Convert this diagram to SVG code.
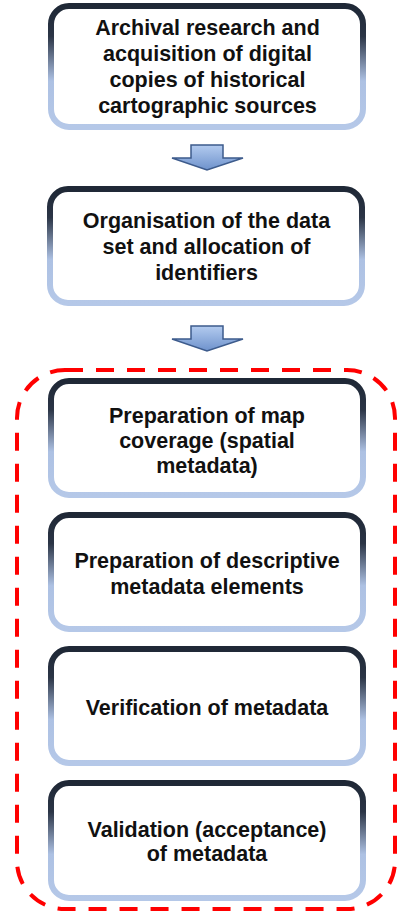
<svg xmlns="http://www.w3.org/2000/svg" width="397" height="911" viewBox="0 0 397 911">
<defs>
<linearGradient id="edge" x1="0" y1="0" x2="0" y2="1">
<stop offset="0" stop-color="#1f2836"/>
<stop offset="0.25" stop-color="#2b3546"/>
<stop offset="0.62" stop-color="#adc1e3"/>
<stop offset="1" stop-color="#b5c8e8"/>
</linearGradient>
<linearGradient id="arrowFill" x1="0" y1="0" x2="0" y2="1">
<stop offset="0" stop-color="#b3cbef"/>
<stop offset="1" stop-color="#6e92cc"/>
</linearGradient>
<style>
.box{fill:#ffffff;stroke:url(#edge);stroke-width:6}
.lbl{font-family:"Liberation Sans",Arial,sans-serif;font-weight:bold;font-size:21.5px;fill:#111111;text-anchor:middle}
.arrow{fill:url(#arrowFill);stroke:#3d5b8c;stroke-width:1.5;stroke-linejoin:miter}
.group{fill:none;stroke:#ff0000;stroke-width:4;stroke-dasharray:18 13}
</style>
</defs>
<g id="group-frame">
<rect class="group" x="17" y="370" width="378" height="539" rx="48" ry="48"/>
</g>
<g id="connectors">
<polygon class="arrow" points="191,145 223,145 223,158 243,158 207,170 172,158 191,158"/>
<polygon class="arrow" points="191,326 223,326 223,339 243,339 207,351 172,339 191,339"/>
</g>
<g id="n1">
<rect class="box" x="51" y="6" width="312" height="121" rx="18" ry="18"/>
<text class="lbl" x="207.5" y="35">Archival research and</text>
<text class="lbl" x="207.5" y="61">acquisition of digital</text>
<text class="lbl" x="207.5" y="87">copies of historical</text>
<text class="lbl" x="207.5" y="113">cartographic sources</text>
</g>
<g id="n2">
<rect class="box" x="50" y="189" width="312" height="114" rx="18" ry="18"/>
<text class="lbl" x="206.5" y="228">Organisation of the data</text>
<text class="lbl" x="206.5" y="254">set and allocation of</text>
<text class="lbl" x="206.5" y="280">identifiers</text>
</g>
<g id="n3">
<rect class="box" x="51" y="381" width="312" height="114" rx="18" ry="18"/>
<text class="lbl" x="207" y="423">Preparation of map</text>
<text class="lbl" x="207" y="448">coverage (spatial</text>
<text class="lbl" x="207" y="473">metadata)</text>
</g>
<g id="n4">
<rect class="box" x="51" y="515" width="312" height="114" rx="18" ry="18"/>
<text class="lbl" x="207" y="568">Preparation of descriptive</text>
<text class="lbl" x="207" y="594">metadata elements</text>
</g>
<g id="n5">
<rect class="box" x="51" y="649" width="312" height="114" rx="18" ry="18"/>
<text class="lbl" x="207" y="715">Verification of metadata</text>
</g>
<g id="n6">
<rect class="box" x="51" y="783" width="312" height="115" rx="18" ry="18"/>
<text class="lbl" x="207" y="837">Validation (acceptance)</text>
<text class="lbl" x="207" y="861">of metadata</text>
</g>
</svg>
